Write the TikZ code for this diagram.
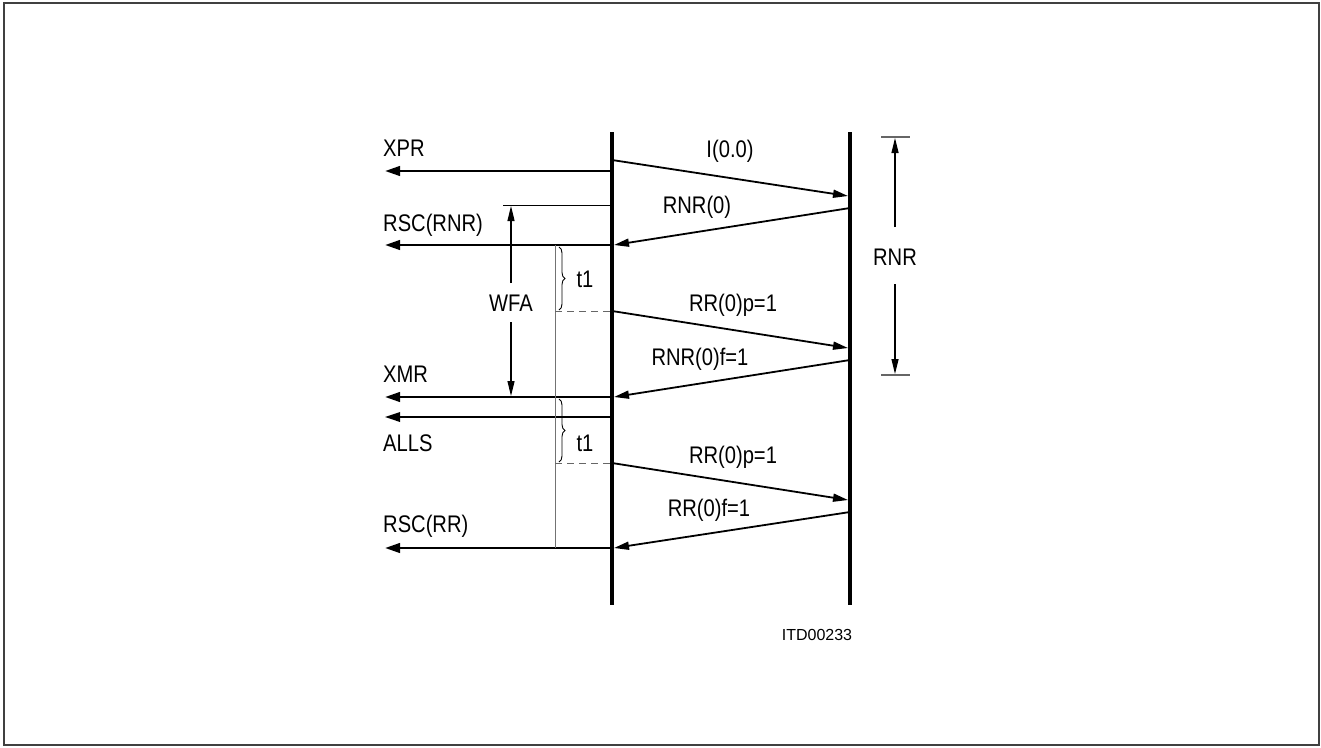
\documentclass[tikz,border=0pt]{standalone}
\usepackage{fontspec}
\setmainfont{Liberation Sans}[FakeStretch=0.84]
\newfontfamily\plainsans{Liberation Sans}
\usetikzlibrary{arrows.meta,decorations.pathreplacing}
\begin{document}
\begin{tikzpicture}[x=1pt,y=-1pt,
  lbl/.style={font=\fontsize{24}{24}\selectfont, inner sep=0pt},
  small/.style={font=\plainsans\fontsize{16}{16}\selectfont, inner sep=0pt},
  life/.style={line width=4.5pt},
  msg/.style={line width=1.8pt,-{Triangle[length=15pt,width=8pt]}},
  outarrow/.style={line width=2.6pt,-{Triangle[length=15pt,width=9.5pt]}},
  outthin/.style={line width=1.8pt,-{Triangle[length=15pt,width=9.5pt]}},
  dim/.style={line width=1.2pt,-{Triangle[length=15pt,width=7pt]}},
  guide/.style={line width=1pt,draw=black!55},
  tick/.style={line width=1.3pt,draw=black!60},
  dsh/.style={line width=1pt,draw=black!60,dash pattern=on 7pt off 5pt},
  brc/.style={line width=0.9pt,decorate,decoration={brace,amplitude=6pt}}]
\useasboundingbox (0,0) rectangle (1321,747);
\draw[line width=2pt,draw=black!75] (4,3) rectangle (1319,745);
% lifelines
\coordinate (A1) at (612,132); \coordinate (A2) at (612,605);
\coordinate (B1) at (850,132); \coordinate (B2) at (850,605);
\draw[life] (A1) -- (A2);
\draw[life] (B1) -- (B2);
% left outputs
\coordinate (xprS) at (612,171); \coordinate (xprE) at (385,171);
\coordinate (rnrS) at (612,245); \coordinate (rnrE) at (385,245);
\coordinate (xmrS) at (612,397); \coordinate (xmrE) at (385,397);
\coordinate (allS) at (612,417); \coordinate (allE) at (385,417);
\coordinate (rrS) at (612,548); \coordinate (rrE) at (385,548);
\draw[outarrow] (xprS) -- (xprE);
\draw[outarrow] (rnrS) -- (rnrE);
\draw[outarrow] (xmrS) -- (xmrE);
\draw[outthin] (allS) -- (allE);
\draw[outarrow] (rrS) -- (rrE);
\node[lbl,anchor=west] (tXPR) at (383,148) {XPR};
\node[lbl,anchor=west] (tRSCRNR) at (383,225) {RSC(RNR)};
\node[lbl,anchor=west] (tXMR) at (383,374) {XMR};
\node[lbl,anchor=west] (tALLS) at (383,443) {ALLS};
\node[lbl,anchor=west] (tRSCRR) at (383,526) {RSC(RR)};
% WFA
\coordinate (wfaL) at (503,205); \coordinate (wfaR) at (612,205);
\draw[line width=1pt] (wfaL) -- (wfaR);
\node[lbl] (tWFA) at (511,303) {WFA};
\coordinate (wfaTop) at (511,206); \coordinate (wfaBot) at (511,396);
\draw[dim] (511,283) -- (wfaTop);
\draw[dim] (511,322) -- (wfaBot);
% guide line
\coordinate (g1) at (555,245); \coordinate (g2) at (555,548);
\draw[guide] (g1) -- (g2);
% braces and dashed
\coordinate (d1a) at (555,311); \coordinate (d1b) at (612,311);
\coordinate (d2a) at (555,463); \coordinate (d2b) at (612,463);
\draw[dsh] (d1a) -- (d1b);
\draw[dsh] (d2a) -- (d2b);
\draw[brc] (559,247) -- (559,310);
\draw[brc] (559,399) -- (559,462);
\node[lbl] (tt1a) at (585,279) {t1};
\node[lbl] (tt1b) at (585,443) {t1};
% messages
\coordinate (m1s) at (612,160); \coordinate (m1e) at (848,196);
\coordinate (m2s) at (850,208); \coordinate (m2e) at (614,245);
\coordinate (m3s) at (612,311); \coordinate (m3e) at (848,348);
\coordinate (m4s) at (850,360); \coordinate (m4e) at (614,397);
\coordinate (m5s) at (612,463); \coordinate (m5e) at (848,500);
\coordinate (m6s) at (850,512); \coordinate (m6e) at (614,548);
\draw[msg] (m1s) -- (m1e);
\draw[msg] (m2s) -- (m2e);
\draw[msg] (m3s) -- (m3e);
\draw[msg] (m4s) -- (m4e);
\draw[msg] (m5s) -- (m5e);
\draw[msg] (m6s) -- (m6e);
\node[lbl] (tI) at (730,151) {I(0.0)};
\node[lbl] (tRNR0) at (697,207) {RNR(0)};
\node[lbl] (tRRp1) at (733,305) {RR(0)p=1};
\node[lbl] (tRNRf) at (700,359) {RNR(0)f=1};
\node[lbl] (tRRp2) at (733,457) {RR(0)p=1};
\node[lbl] (tRRf) at (709,510) {RR(0)f=1};
% RNR dimension
\coordinate (k1a) at (881,137); \coordinate (k1b) at (910,137);
\coordinate (k2a) at (881,375); \coordinate (k2b) at (910,375);
\draw[tick] (k1a) -- (k1b);
\draw[tick] (k2a) -- (k2b);
\node[lbl] (tRNR) at (895,257) {RNR};
\coordinate (rTop) at (895,138); \coordinate (rBot) at (895,374);
\draw[dim] (895,227) -- (rTop);
\draw[dim] (895,284) -- (rBot);
\node[small] (tITD) at (817,635) {ITD00233};
\end{tikzpicture}
\end{document}
